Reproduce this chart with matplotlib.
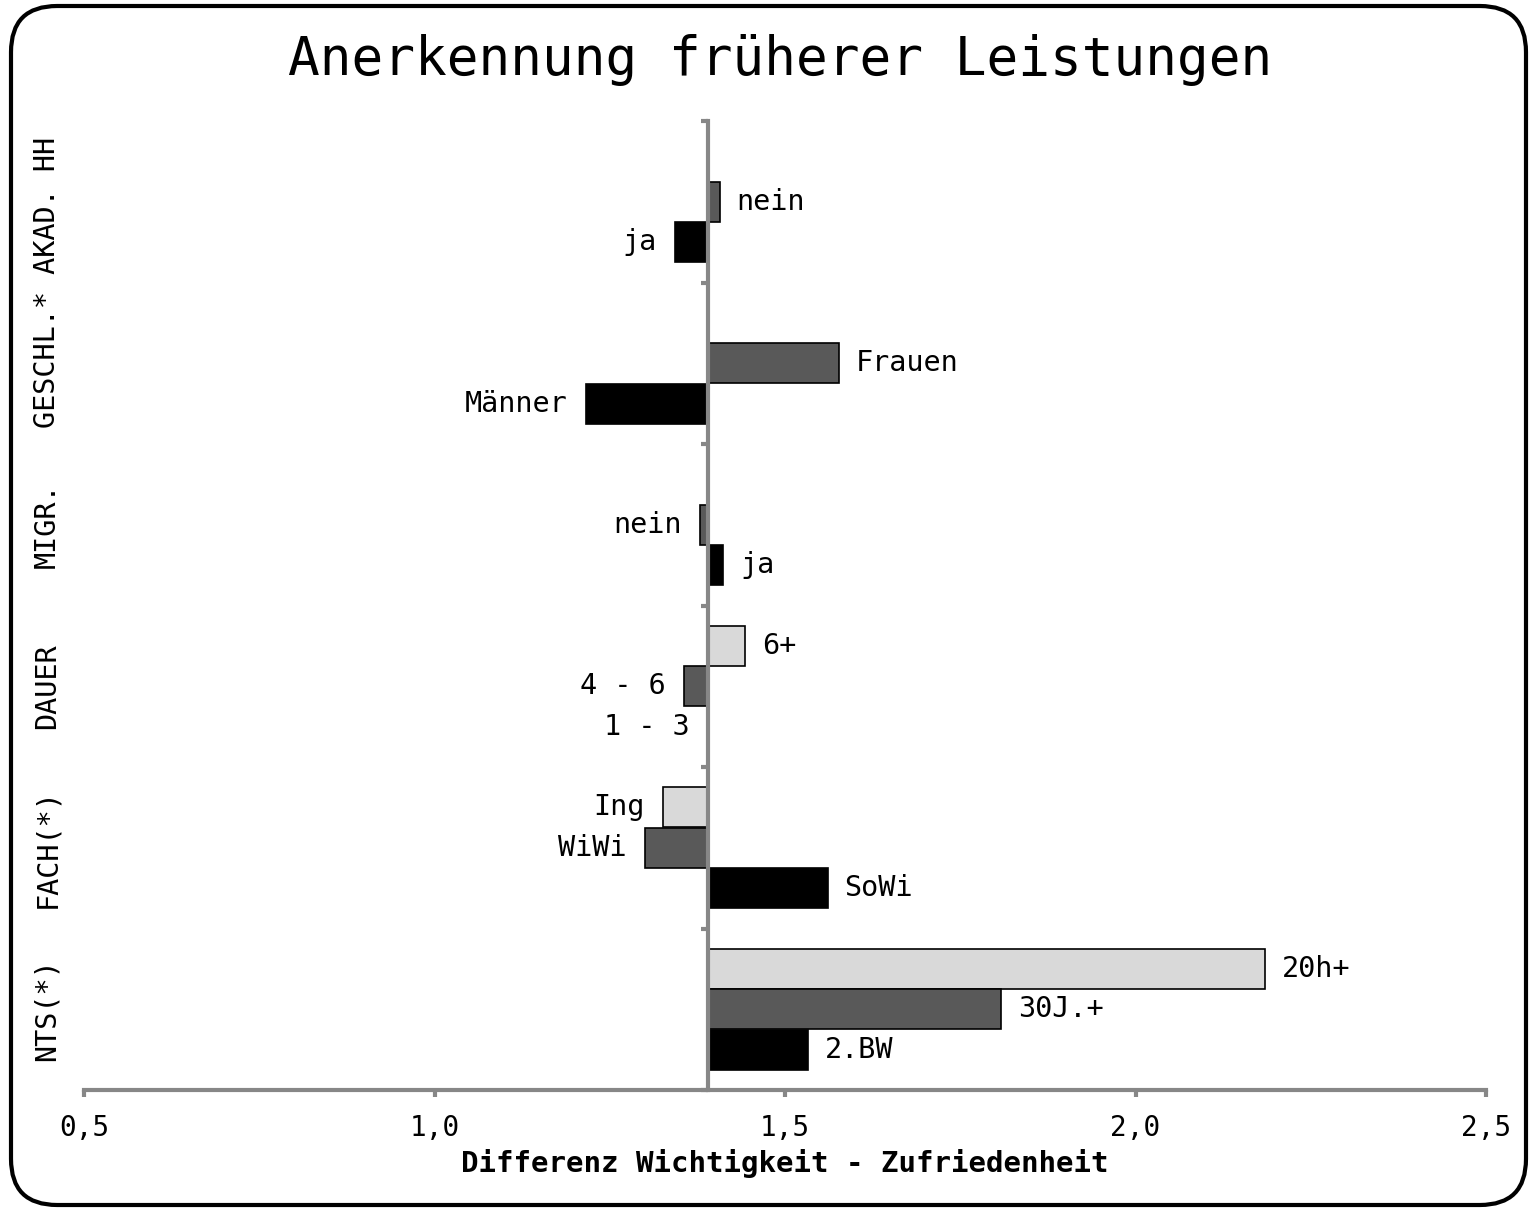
import matplotlib
matplotlib.use("Agg")
import matplotlib.pyplot as plt
from matplotlib.patches import FancyBboxPatch
import matplotlib.transforms as mtrans

# ---- data ----
group_labels = ["NTS(*)", "FACH(*)", "DAUER", "MIGR.", "GESCHL.* AKAD. HH"]
group_label_pos = [0.5, 1.5, 2.5, 3.5, 5.0]
# slot 0 = light (top), 1 = dark (middle), 2 = black (bottom); groups from bottom
light_labels = ["20h+", "Ing", "6+", None, None, None]
light_values = [2.185, 1.326, 1.443, None, None, None]
dark_labels = ["30J.+", "WiWi", "4 - 6", "nein", "Frauen", "nein"]
dark_values = [1.808, 1.300, 1.356, 1.379, 1.577, 1.407]
black_labels = ["2.BW", "SoWi", "1 - 3", "ja", "Männer", "ja"]
black_values = [1.533, 1.561, 1.390, 1.412, 1.216, 1.343]
baseline = 1.39
xticks = [0.5, 1.0, 1.5, 2.0, 2.5]
xtick_labels = ["0,5", "1,0", "1,5", "2,0", "2,5"]
title = "Anerkennung früherer Leistungen"
xlabel = "Differenz Wichtigkeit - Zufriedenheit"

colors = ["#d9d9d9", "#595959", "#000000"]
axis_gray = "#878787"
FONT = "DejaVu Sans Mono"
LFS = 20.5

W, H = 1537, 1211
fig = plt.figure(figsize=(W / 100, H / 100), dpi=100)
ax = fig.add_axes([84 / W, 1 - 1090 / H, (1486 - 84) / W, (1090 - 121) / H])

bh = 0.248
offsets = [0.25, 0.0, -0.25]
series = [(light_labels, light_values), (dark_labels, dark_values), (black_labels, black_values)]
for si, (labs, vals) in enumerate(series):
    for gi, (lab, v) in enumerate(zip(labs, vals)):
        if v is None:
            continue
        y = gi + 0.5 + offsets[si]
        w = v - baseline
        if abs(w) > 1e-9:
            ax.barh(y, w, left=baseline, height=bh, color=colors[si],
                    edgecolor="black", linewidth=1.2, zorder=2)
        if w > 1e-9:
            ax.annotate(lab, (v, y), xytext=(12, 0), textcoords="offset points",
                        ha="left", va="center", fontsize=LFS, family=FONT)
        else:
            ax.annotate(lab, (v, y), xytext=(-13, 0), textcoords="offset points",
                        ha="right", va="center", fontsize=LFS, family=FONT)

ax.set_xlim(0.5, 2.5)
ax.set_ylim(0, 6)
for s in ["top", "right"]:
    ax.spines[s].set_visible(False)
ax.spines["left"].set_position(("data", baseline))
for s in ["left", "bottom"]:
    ax.spines[s].set_color(axis_gray)
    ax.spines[s].set_linewidth(3)
ax.spines["left"].set_zorder(3)
ax.set_yticks(range(0, 7))
ax.set_yticklabels([])
ax.set_xticks(xticks)
ax.set_xticklabels(xtick_labels, family=FONT, fontsize=20)
ax.tick_params(axis="both", color=axis_gray, width=3, length=5)
ax.tick_params(axis="x", pad=12)
ax.set_xlabel(xlabel, family=FONT, fontsize=21, fontweight="bold", labelpad=5)

trans = mtrans.blended_transform_factory(fig.transFigure, ax.transData)
for t, yc in zip(group_labels, group_label_pos):
    fig.text(47 / W, yc, t, transform=trans, rotation=90, ha="center", va="center",
             fontsize=LFS, family=FONT)

fig.text(780 / W, 1 - 60 / H, title, ha="center", va="center", fontsize=38, family=FONT)

border = FancyBboxPatch((11 / W, 6 / H), (W - 22) / W, (H - 12) / H,
                        boxstyle="round,pad=0,rounding_size=0.03",
                        transform=fig.transFigure, fill=False, edgecolor="black",
                        linewidth=3, mutation_aspect=W / H)
fig.patches.append(border)

fig.savefig("out.png", dpi=100)
